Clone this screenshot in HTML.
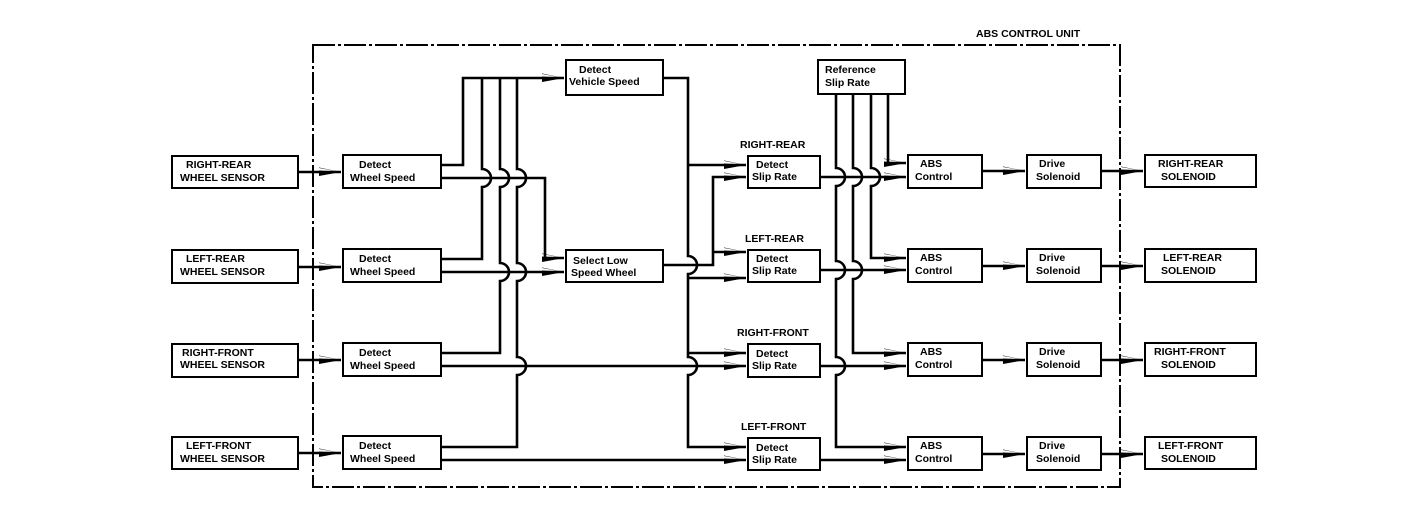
<!DOCTYPE html>
<html><head><meta charset="utf-8"><style>
html,body{margin:0;padding:0;background:#fff;}
svg{display:block}
text{font-family:"Liberation Sans",Arial,sans-serif;font-weight:bold;font-size:10.5px;fill:#000}
</style></head><body>
<svg width="1408" height="532" viewBox="0 0 1408 532" xmlns="http://www.w3.org/2000/svg">
<defs>
<marker id="a" markerUnits="userSpaceOnUse" markerWidth="24" markerHeight="12" refX="22" refY="5" orient="auto">
<path d="M0,3.5 L22,5 L0,0.5 Z M0,1 L22,5 L0,9 Z" fill="#000"/>
</marker>
</defs>
<!-- outer dashed box -->
<rect x="313" y="45" width="807" height="442" fill="none" stroke="#000" stroke-width="2" stroke-dasharray="22,3,3,3"/>
<text x="976" y="37">ABS CONTROL UNIT</text>

<g fill="none" stroke="#000" stroke-width="2">
<!-- sensors -->
<rect x="172" y="156" width="126" height="32"/>
<rect x="172" y="250" width="126" height="33"/>
<rect x="172" y="344" width="126" height="33"/>
<rect x="172" y="437" width="126" height="32"/>
<!-- wheel speed -->
<rect x="343" y="155" width="98" height="33"/>
<rect x="343" y="249" width="98" height="33"/>
<rect x="343" y="343" width="98" height="33"/>
<rect x="343" y="436" width="98" height="33"/>
<!-- vehicle speed / select low -->
<rect x="566" y="60" width="97" height="35"/>
<rect x="566" y="250" width="97" height="32"/>
<!-- slip rate -->
<rect x="748" y="156" width="72" height="32"/>
<rect x="748" y="250" width="72" height="32"/>
<rect x="748" y="344" width="72" height="33"/>
<rect x="748" y="438" width="72" height="32"/>
<!-- ref slip -->
<rect x="818" y="60" width="87" height="34"/>
<!-- ABS control -->
<rect x="908" y="155" width="74" height="33"/>
<rect x="908" y="249" width="74" height="33"/>
<rect x="908" y="343" width="74" height="33"/>
<rect x="908" y="437" width="74" height="33"/>
<!-- drive solenoid -->
<rect x="1027" y="155" width="74" height="33"/>
<rect x="1027" y="249" width="74" height="33"/>
<rect x="1027" y="343" width="74" height="33"/>
<rect x="1027" y="437" width="74" height="33"/>
<!-- solenoids -->
<rect x="1145" y="155" width="111" height="32"/>
<rect x="1145" y="249" width="111" height="33"/>
<rect x="1145" y="343" width="111" height="33"/>
<rect x="1145" y="437" width="111" height="32"/>
</g>

<g fill="none" stroke="#000" stroke-width="2.6">
<!-- sensor -> wheel speed -->
<path d="M298,172 H341" marker-end="url(#a)"/>
<path d="M298,267 H341" marker-end="url(#a)"/>
<path d="M298,360 H341" marker-end="url(#a)"/>
<path d="M298,453 H341" marker-end="url(#a)"/>
<!-- bus verticals -->
<path d="M441,165 H463 V78 H564" marker-end="url(#a)"/>
<path d="M441,259 H482 V187 A9,9 0 0,0 482,169 V78"/>
<path d="M441,353 H500 V281 A9,9 0 0,0 500,263 V187 A9,9 0 0,0 500,169 V78"/>
<path d="M441,447 H517 V375 A9,9 0 0,0 517,357 V281 A9,9 0 0,0 517,263 V187 A9,9 0 0,0 517,169 V78"/>
<!-- lower lines -->
<path d="M441,178 H545 V258 H564" marker-end="url(#a)"/>
<path d="M441,272 H564" marker-end="url(#a)"/>
<path d="M441,366 H746" marker-end="url(#a)"/>
<path d="M441,460 H746" marker-end="url(#a)"/>
<!-- vehicle speed -->
<path d="M663,78 H688 V256 A9,9 0 0,1 688,274 V357 A9,9 0 0,1 688,375 V447 H746" marker-end="url(#a)"/>
<path d="M688,165 H746" marker-end="url(#a)"/>
<path d="M688,278 H746" marker-end="url(#a)"/>
<path d="M688,353 H746" marker-end="url(#a)"/>
<!-- select low out -->
<path d="M663,265 H713 V177 H746" marker-end="url(#a)"/>
<path d="M713,252 H746" marker-end="url(#a)"/>
<!-- slip -> ABS -->
<path d="M820,177 H906" marker-end="url(#a)"/>
<path d="M820,270 H906" marker-end="url(#a)"/>
<path d="M820,366 H906" marker-end="url(#a)"/>
<path d="M820,460 H906" marker-end="url(#a)"/>
<!-- ref slip verticals -->
<path d="M888,94 V163 H906" marker-end="url(#a)"/>
<path d="M871,94 V168 A9,9 0 0,1 871,186 V258 H906" marker-end="url(#a)"/>
<path d="M853,94 V168 A9,9 0 0,1 853,186 V261 A9,9 0 0,1 853,279 V353 H906" marker-end="url(#a)"/>
<path d="M836,94 V168 A9,9 0 0,1 836,186 V261 A9,9 0 0,1 836,279 V357 A9,9 0 0,1 836,375 V447 H906" marker-end="url(#a)"/>
<!-- ABS -> drive -> solenoid -->
<path d="M982,171 H1025" marker-end="url(#a)"/>
<path d="M982,266 H1025" marker-end="url(#a)"/>
<path d="M982,360 H1025" marker-end="url(#a)"/>
<path d="M982,454 H1025" marker-end="url(#a)"/>
<path d="M1101,171 H1143" marker-end="url(#a)"/>
<path d="M1101,266 H1143" marker-end="url(#a)"/>
<path d="M1101,360 H1143" marker-end="url(#a)"/>
<path d="M1101,454 H1143" marker-end="url(#a)"/>
</g>

<!-- sensor labels -->
<text x="186" y="168">RIGHT-REAR</text><text x="180" y="181">WHEEL SENSOR</text>
<text x="186" y="262">LEFT-REAR</text><text x="180" y="275">WHEEL SENSOR</text>
<text x="182" y="356">RIGHT-FRONT</text><text x="180" y="368">WHEEL SENSOR</text>
<text x="186" y="449">LEFT-FRONT</text><text x="180" y="462">WHEEL SENSOR</text>
<!-- wheel speed -->
<g>
<text x="359" y="168">Detect</text><text x="350" y="181">Wheel Speed</text>
<text x="359" y="262">Detect</text><text x="350" y="275">Wheel Speed</text>
<text x="359" y="356">Detect</text><text x="350" y="369">Wheel Speed</text>
<text x="359" y="449">Detect</text><text x="350" y="462">Wheel Speed</text>
</g>
<text x="579" y="73">Detect</text><text x="569" y="85">Vehicle Speed</text>
<text x="573" y="264">Select Low</text><text x="571" y="276">Speed Wheel</text>
<text x="740" y="148">RIGHT-REAR</text>
<text x="745" y="242">LEFT-REAR</text>
<text x="737" y="336">RIGHT-FRONT</text>
<text x="741" y="430">LEFT-FRONT</text>
<g>
<text x="756" y="168">Detect</text><text x="752" y="180">Slip Rate</text>
<text x="756" y="262">Detect</text><text x="752" y="274">Slip Rate</text>
<text x="756" y="357">Detect</text><text x="752" y="369">Slip Rate</text>
<text x="756" y="451">Detect</text><text x="752" y="463">Slip Rate</text>
</g>
<text x="825" y="73">Reference</text><text x="825" y="86">Slip Rate</text>
<g>
<text x="920" y="167">ABS</text><text x="915" y="180">Control</text>
<text x="920" y="261">ABS</text><text x="915" y="274">Control</text>
<text x="920" y="355">ABS</text><text x="915" y="368">Control</text>
<text x="920" y="449">ABS</text><text x="915" y="462">Control</text>
</g>
<g>
<text x="1039" y="167">Drive</text><text x="1036" y="180">Solenoid</text>
<text x="1039" y="261">Drive</text><text x="1036" y="274">Solenoid</text>
<text x="1039" y="355">Drive</text><text x="1036" y="368">Solenoid</text>
<text x="1039" y="449">Drive</text><text x="1036" y="462">Solenoid</text>
</g>
<text x="1158" y="167">RIGHT-REAR</text><text x="1161" y="180">SOLENOID</text>
<text x="1163" y="261">LEFT-REAR</text><text x="1161" y="274">SOLENOID</text>
<text x="1154" y="355">RIGHT-FRONT</text><text x="1161" y="368">SOLENOID</text>
<text x="1158" y="449">LEFT-FRONT</text><text x="1161" y="462">SOLENOID</text>
</svg>
</body></html>
